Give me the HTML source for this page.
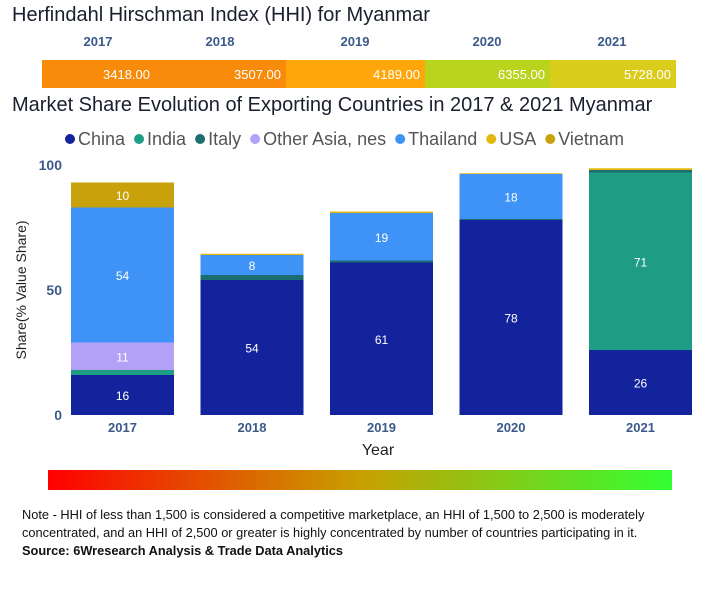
<!DOCTYPE html>
<html><head><meta charset="utf-8"><style>
body{margin:0;width:710px;height:600px;background:#fff;font-family:"Liberation Sans",sans-serif;overflow:hidden;position:relative}
.t{position:absolute;white-space:nowrap}
</style></head><body>
<div class="t" style="left:12px;top:4px;font-size:20px;color:#1a1f2e">Herfindahl Hirschman Index (HHI) for Myanmar</div>
<svg id="hhi" width="710" height="95" style="position:absolute;left:0;top:0"></svg>
<div class="t" style="left:12px;top:94px;font-size:20px;color:#1a1f2e">Market Share Evolution of Exporting Countries in 2017 &amp; 2021 Myanmar</div>
<svg id="chart" width="710" height="470" style="position:absolute;left:0;top:120px"></svg>
<div style="position:absolute;left:48px;top:470px;width:624px;height:20px;background:linear-gradient(90deg,#f00,#c8a000 50%,#3f3 100%)"></div>
<div class="t" style="left:22px;top:506px;font-size:12.8px;line-height:18px;color:#111;white-space:normal;width:686px">Note - HHI of less than 1,500 is considered a competitive marketplace, an HHI of 1,500 to 2,500 is moderately concentrated, and an HHI of 2,500 or greater is highly concentrated by number of countries participating in it.<br><b>Source: 6Wresearch Analysis &amp; Trade Data Analytics</b></div>
<script>
const hhiYears=["2017","2018","2019","2020","2021"];
const hhiValues=[3418,3507,4189,6355,5728];
const years=["2017","2018","2019","2020","2021"];
const seriesNames=["China","India","Italy","Other Asia, nes","Thailand","USA","Vietnam"];
const china=[16,54,61,78,26];
const india=[2,0,0,0,71];
const italy=[0,2,0.8,0.4,1];
const otherAsia=[11,0,0,0,0];
const thailand=[54,8,19,18,0];
const usa=[0,0.5,0.6,0.3,0.7];
const vietnam=[10,0,0,0,0];
const yTicks=[0,50,100];
const NS="http://www.w3.org/2000/svg";
function mk(p,tag,a,txt){const e=document.createElementNS(NS,tag);for(const k in a)e.setAttribute(k,a[k]);if(txt!=null)e.textContent=txt;p.appendChild(e);return e;}
const h=document.getElementById('hhi');
const hx=[42,155,286,425,550,676];
const hcol=["#f98b0a","#f98b0a","#ffa60a","#b9d41c","#d9cc1a"];
hhiYears.forEach((y,i)=>{
 const r=mk(h,'rect',{x:hx[i],y:60,width:hx[i+1]-hx[i],height:28,fill:hcol[i]});
 
 
 const v=mk(h,'text',{x:hx[i+1]-5,y:79,'text-anchor':'end','font-size':13,fill:'#fff'},hhiValues[i].toFixed(2));
 
 
 const l=mk(h,'text',{x:[98,220,355,487,612][i],y:46,'text-anchor':'middle','font-size':13,'font-weight':'bold',fill:'#3b5a8a'},y);
 
 
});
const c=document.getElementById('chart');
const colors=["#13239b","#1f9c84","#1b6e70","#b3a1f7","#3f93f6","#e3b80d","#c9a10a"];
const series=[china,india,italy,otherAsia,thailand,usa,vietnam];
const OY=-120,y0=415+OY,pxu=2.5;
const yS=v=>y0-v*pxu;
const xS=i=>71+i*129.5;const bw=103;
let lx=65;
seriesNames.forEach((n,i)=>{
 const g=mk(c,'g',{});
 
 
 mk(g,'circle',{cx:lx+5,cy:139+OY,r:5,fill:colors[i]});
 const t=mk(g,'text',{x:lx+13,y:145+OY,'font-size':18,fill:'#555'},n);
 lx+=13+t.getComputedTextLength()+9;
});
yTicks.forEach(t=>{
 const e=mk(c,'text',{x:62,y:yS(t)+5,'text-anchor':'end','font-size':14,'font-weight':'bold',fill:'#3b5a8a'},t);
 
 
});
const yt=mk(c,'text',{transform:`translate(26,${290+OY}) rotate(-90)`,'text-anchor':'middle','font-size':14,fill:'#222'},'Share(% Value Share)');


years.forEach((y,i)=>{
 let acc=0;
 series.forEach((s,k)=>{
  const v=s[i];if(!v)return;
  const r=mk(c,'rect',{x:xS(i),y:yS(acc+v),width:bw,height:v*pxu,fill:colors[k]});
  
  
  if(v>=5){const t=mk(c,'text',{x:xS(i)+bw/2,y:yS(acc+v/2)+5,'text-anchor':'middle','font-size':12,fill:'#fff'},Math.round(v));
   
   }
  acc+=v;
 });
 const l=mk(c,'text',{x:xS(i)+bw/2,y:432+OY,'text-anchor':'middle','font-size':13,'font-weight':'bold',fill:'#3b5a8a'},y);
 
 
});
const xt=mk(c,'text',{x:378,y:455+OY,'text-anchor':'middle','font-size':16,fill:'#222'},'Year');


</script>
</body></html>
